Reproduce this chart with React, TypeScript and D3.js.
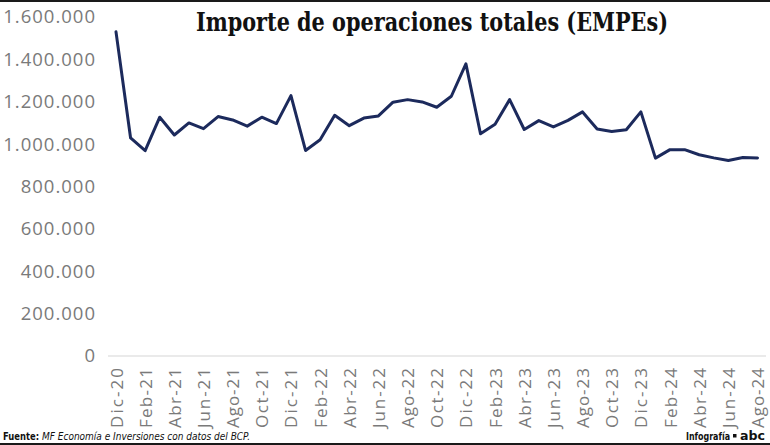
import { useEffect } from "react";
import * as d3 from "d3";

const W = 770;
const H = 445;

// monthly values, Dic-20 .. Ago-24
const months = [
  "Dic-20", "Ene-21", "Feb-21", "Mar-21", "Abr-21", "May-21", "Jun-21", "Jul-21", "Ago-21", "Sep-21", "Oct-21", "Nov-21",
  "Dic-21", "Ene-22", "Feb-22", "Mar-22", "Abr-22", "May-22", "Jun-22", "Jul-22", "Ago-22", "Sep-22", "Oct-22", "Nov-22",
  "Dic-22", "Ene-23", "Feb-23", "Mar-23", "Abr-23", "May-23", "Jun-23", "Jul-23", "Ago-23", "Sep-23", "Oct-23", "Nov-23",
  "Dic-23", "Ene-24", "Feb-24", "Mar-24", "Abr-24", "May-24", "Jun-24", "Jul-24", "Ago-24",
];
const importe = [
  1530000, 1029000, 969000, 1127000, 1043000, 1100000, 1073000, 1130000, 1114000, 1085000, 1127000, 1097000,
  1229000, 970000, 1021000, 1136000, 1087000, 1123000, 1133000, 1198000, 1210000, 1199000, 1174000, 1226000,
  1379000, 1049000, 1094000, 1210000, 1069000, 1111000, 1081000, 1112000, 1152000, 1071000, 1060000, 1068000,
  1152000, 934000, 974000, 974000, 950000, 935000, 923000, 937000, 935000,
];
const yTicks = [0, 200000, 400000, 600000, 800000, 1000000, 1200000, 1400000, 1600000];

const fmt = (v: number) => d3.format(",")(v).replace(/,/g, ".");

export default function App() {
  useEffect(() => {
    document.body.style.margin = "0";
  }, []);

  const x = d3.scalePoint<string>().domain(months).range([116, 757.5]);
  const y = d3.scaleLinear().domain([0, 1600000]).range([356, 17]);

  const line = d3
    .line<number>()
    .x((_, i) => x(months[i]) as number)
    .y((d) => y(d));

  const xLabels = months.filter((_, i) => i % 2 === 0);
  const axisFont = "'Open Sans', 'DejaVu Sans', sans-serif";
  const narrow = "'DejaVu Sans Condensed', 'Liberation Sans', sans-serif";
  const foot = { fontFamily: narrow, fontSize: 11, fill: "#111" };

  return (
    <svg width={W} height={H} style={{ display: "block", background: "#fff" }}>
      <rect x={0} y={0} width={W} height={2} fill="#1a1a1a" />
      <rect x={0} y={443} width={W} height={2} fill="#1a1a1a" />

      <text
        x={432}
        y={31}
        textAnchor="middle"
        textLength={472}
        lengthAdjust="spacingAndGlyphs"
        style={{ fontFamily: "'DejaVu Serif Condensed', 'DejaVu Serif', serif", fontWeight: 700, fontSize: 26, fill: "#111" }}
      >
        Importe de operaciones totales (EMPEs)
      </text>

      {/* y axis labels */}
      {yTicks.map((t) => (
        <text
          key={t}
          x={96}
          y={y(t)}
          dy="0.35em"
          textAnchor="end"
          style={{ fontFamily: axisFont, fontSize: 18.5, letterSpacing: 1, fill: "#7a7a7a" }}
        >
          {fmt(t)}
        </text>
      ))}

      {/* baseline */}
      <line x1={108} x2={766} y1={y(0)} y2={y(0)} stroke="#e3e3e3" strokeWidth={1.5} />

      {/* x axis labels */}
      {xLabels.map((m) => (
        <text
          key={m}
          transform={`translate(${(x(m) as number) + 6.5},368) rotate(-90)`}
          textAnchor="end"
          textLength={60}
          lengthAdjust="spacing"
          style={{ fontFamily: axisFont, fontSize: 17, fill: "#7a7a7a" }}
        >
          {m}
        </text>
      ))}

      <path
        d={line(importe) || ""}
        fill="none"
        stroke="#1c2a5c"
        strokeWidth={3}
        strokeLinejoin="round"
        strokeLinecap="round"
      />

      {/* footer */}
      <text x={3} y={440} textLength={36} lengthAdjust="spacingAndGlyphs" style={{ ...foot, fontWeight: 700 }}>
        Fuente:
      </text>
      <text x={42} y={440} textLength={208} lengthAdjust="spacingAndGlyphs" style={{ ...foot, fontStyle: "italic" }}>
        MF Economía e Inversiones con datos del BCP.
      </text>
      <text x={686} y={440} textLength={44} lengthAdjust="spacingAndGlyphs" style={{ ...foot, fontWeight: 700 }}>
        Infografía
      </text>
      <rect x={733} y={434} width={3.5} height={3.5} fill="#111" />
      <text
        x={765}
        y={440}
        textAnchor="end"
        textLength={25}
        lengthAdjust="spacingAndGlyphs"
        style={{ fontFamily: "'DejaVu Sans', sans-serif", fontSize: 12, fontWeight: 900, fill: "#111" }}
      >
        abc
      </text>
    </svg>
  );
}
